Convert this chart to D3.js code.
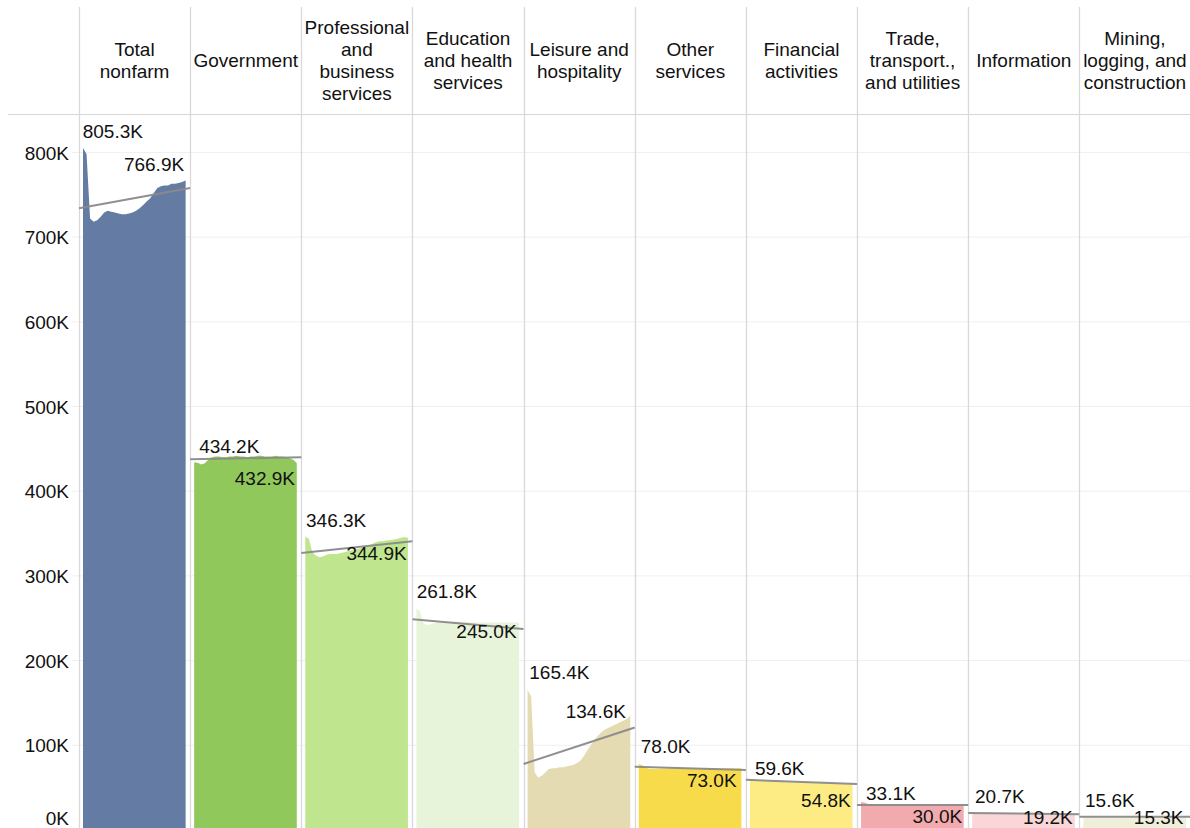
<!DOCTYPE html>
<html>
<head>
<meta charset="utf-8">
<script src="https://cdn.jsdelivr.net/npm/d3@7"></script>
<style>
  body { margin: 0; background: #fff; }
  svg { display: block; font-family: "Liberation Sans", Arial, Helvetica, sans-serif; }
</style>
</head>
<body>
<svg id="chart" width="1190" height="828"></svg>
<script>
// ---- Data (employment, thousands) ----
const categories = [
  "Total nonfarm", "Government", "Professional and business services",
  "Education and health services", "Leisure and hospitality", "Other services",
  "Financial activities", "Trade, transport., and utilities", "Information",
  "Mining, logging, and construction"
];
const headerLabels = [
  ["Total", "nonfarm"],
  ["Government"],
  ["Professional", "and", "business", "services"],
  ["Education", "and health", "services"],
  ["Leisure and", "hospitality"],
  ["Other", "services"],
  ["Financial", "activities"],
  ["Trade,", "transport.,", "and utilities"],
  ["Information"],
  ["Mining,", "logging, and", "construction"]
];

const totalNonfarm = [805.3, 798, 722, 718, 720, 724, 729, 731, 730, 729, 728, 727, 727, 728, 729, 731, 734, 738, 742, 746, 752, 758, 760, 761, 761, 763, 763, 764, 765, 766.9];
const government = [434.2, 433.5, 431.5, 433, 437, 440, 441, 441, 440, 440, 441, 441, 442, 441, 441, 440, 441, 441, 442, 442, 441, 441, 441, 442, 441, 441, 440, 439, 437, 432.9];
const professional = [346.3, 344, 328, 324, 322, 323, 325, 326, 326, 326, 327, 328, 329, 330, 331, 332, 333, 334, 336, 338, 340, 341, 341, 342, 342, 343, 344, 345, 346, 344.9];
const education = [261.8, 258, 244, 242, 243, 244, 245, 245, 246, 246, 246, 246, 246, 246, 246, 245, 245, 245, 245, 245, 245, 245, 245, 245, 245, 245, 245, 245, 245, 245.0];
const leisure = [165.4, 158, 68, 62, 64, 68, 72, 73, 73, 74, 74, 75, 76, 77, 79, 82, 88, 95, 101, 107, 112, 116, 119, 121, 123, 125, 127, 129, 131, 134.6];
const otherServices = [78.0, 76.5, 73.5, 72, 72, 72, 72.2, 72.4, 72.5, 72.5, 72.5, 72.6, 72.6, 72.7, 72.7, 72.8, 72.8, 72.9, 72.9, 73, 73, 73, 73, 73, 73, 73, 73, 73, 73, 73.0];
const financial = [59.6, 59.2, 58.2, 57.8, 57.6, 57.5, 57.4, 57.2, 57.1, 57, 56.8, 56.7, 56.5, 56.4, 56.2, 56.1, 56, 55.9, 55.8, 55.7, 55.6, 55.5, 55.4, 55.3, 55.2, 55.1, 55, 54.9, 54.8, 54.8];
const trade = [33.1, 32.4, 30.6, 30.3, 30.3, 30.4, 30.5, 30.5, 30.5, 30.5, 30.4, 30.4, 30.4, 30.3, 30.3, 30.3, 30.2, 30.2, 30.2, 30.2, 30.1, 30.1, 30.1, 30.1, 30.1, 30, 30, 30, 30, 30.0];
const information = [20.7, 20.4, 19.6, 19.4, 19.4, 19.4, 19.3, 19.3, 19.3, 19.3, 19.3, 19.3, 19.3, 19.3, 19.3, 19.3, 19.3, 19.3, 19.2, 19.2, 19.2, 19.2, 19.2, 19.2, 19.2, 19.2, 19.2, 19.2, 19.2, 19.2];
const mining = [15.6, 15.5, 15.0, 15.0, 15.1, 15.1, 15.2, 15.2, 15.2, 15.2, 15.2, 15.2, 15.2, 15.2, 15.3, 15.3, 15.3, 15.3, 15.3, 15.3, 15.3, 15.3, 15.3, 15.3, 15.3, 15.3, 15.3, 15.3, 15.3, 15.3];

// Linear trend per panel, value at the panel's left and right edges
const trendStart = [734, 437.7, 327, 248.7, 78, 74.7, 59.3, 29.6, 20.2, 15.7];
const trendEnd   = [758, 440.0, 341, 237.3, 121, 70.8, 54.3, 29.4, 18.7, 15.5];

const yTicks = [0, 100, 200, 300, 400, 500, 600, 700, 800];

const seriesValues = [totalNonfarm, government, professional, education, leisure,
  otherServices, financial, trade, information, mining];

// ---- Styling / layout ----
const areaColors = ["#5e779f", "#8dc655", "#bce489", "#e6f4d8", "#e3dab0",
  "#f8da43", "#fdeb7f", "#f0a8ab", "#f9d4d6", "#efeed8"];
// label nudges per panel (px)
const startDx = [3.7, 9, 4.7, 4.2, 5.7, 6, 9, 9, 6.8, 5.7];
const startDy = [-9.6, -9, -9.3, -10, -10.6, -10.6, -4.5, -2, -9.5, -10];
const endDx = [6, 6.3, 5.8, 7, 8.8, 9.3, 6.3, 6, 6.6, 7];
const endDy = [-9.7, 22, 22, 15.6, 2, 18.5, 23, 18.4, 10, 7];

const W = 1190, H = 828;
const FONT = 19;
const svg = d3.select("#chart");

const x = d3.scaleBand().domain(categories).range([79, 1190.5]).padding(0);
const y = d3.scaleLinear().domain([0, 800]).range([830, 152.4]);
const fmt = v => d3.format(".1f")(v) + "K";

// gridlines
svg.append("g").selectAll("line").data(yTicks).join("line")
  .attr("x1", 72).attr("x2", W)
  .attr("y1", d => y(d)).attr("y2", d => y(d))
  .attr("stroke", "#efefef").attr("stroke-width", 1);

// y axis labels
const yAxis = svg.append("g").attr("transform", "translate(69,0)")
  .call(d3.axisLeft(y).tickValues(yTicks).tickFormat(d => d + "K").tickSize(0).tickPadding(0));
yAxis.select(".domain").remove();
yAxis.selectAll("text")
  .attr("font-size", FONT).attr("font-family", "Liberation Sans, Arial, sans-serif")
  .attr("fill", "#111").attr("dy", null)
  .attr("y", d => Math.min(y(d), 818) - y(d) + FONT * 0.35);

// header separator
svg.append("line").attr("x1", 8).attr("x2", W).attr("y1", 114.5).attr("y2", 114.5)
  .attr("stroke", "#d6d6d6").attr("stroke-width", 1);

// column dividers
svg.append("g").selectAll("line").data(categories).join("line")
  .attr("x1", d => Math.round(x(d)) + 0.5).attr("x2", d => Math.round(x(d)) + 0.5)
  .attr("y1", 7).attr("y2", H)
  .attr("stroke", "#d9d9d9").attr("stroke-width", 1.3);

// header labels
const lineGap = 22;
svg.append("g").selectAll("text").data(categories).join("text")
  .attr("text-anchor", "middle").attr("font-size", FONT).attr("fill", "#111")
  .each(function (d, i) {
    const lines = headerLabels[i];
    const cx = x(d) + x.bandwidth() / 2;
    d3.select(this).selectAll("tspan").data(lines).join("tspan")
      .attr("x", cx)
      .attr("y", (t, j) => 66.7 + (j - (lines.length - 1) / 2) * lineGap)
      .text(t => t);
  });

// panels
const panels = svg.append("g").selectAll("g").data(categories).join("g");
panels.each(function (cat, i) {
  const g = d3.select(this);
  const vals = seriesValues[i];
  const left = x(cat), right = x(cat) + x.bandwidth();
  const px = d3.scaleLinear().domain([0, vals.length - 1]).range([left + 4, right - 4.5]);

  const area = d3.area().x((d, k) => px(k)).y0(y(0)).y1(d => y(d)).curve(d3.curveLinear);
  g.append("path").datum(vals).attr("d", area)
    .attr("fill", areaColors[i]).attr("fill-opacity", 0.96);

  // trend line across the panel
  const tx = d3.scaleLinear().domain([0, 1]).range([left, right]);
  g.append("line")
    .attr("x1", tx(0)).attr("x2", tx(1))
    .attr("y1", y(trendStart[i])).attr("y2", y(trendEnd[i]))
    .attr("stroke", "#8a8a8a").attr("stroke-width", 2).attr("stroke-opacity", 0.95);

  // start / end labels
  const first = vals[0], last = vals[vals.length - 1];
  g.append("text").attr("x", left + startDx[i]).attr("y", y(first) + startDy[i])
    .attr("font-size", FONT).attr("fill", "#111").text(fmt(first));
  g.append("text").attr("x", right - endDx[i]).attr("y", y(last) + endDy[i])
    .attr("text-anchor", "end").attr("font-size", FONT).attr("fill", "#111").text(fmt(last));
});
</script>
</body>
</html>
